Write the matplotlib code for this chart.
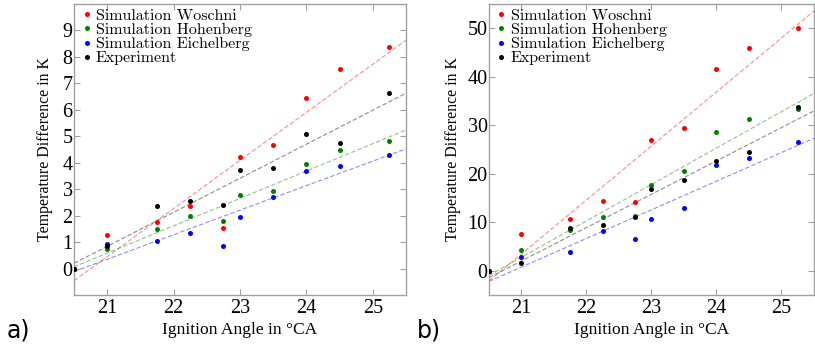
import numpy as np
import matplotlib
matplotlib.use("Agg")
import matplotlib.pyplot as plt

# ignition angles (°CA); the first point is the reference at 20.5 with zero difference
angle = [20.5, 21.0, 21.75, 22.25, 22.75, 23.0, 23.5, 24.0, 24.5, 25.25]

# panel a)
a_woschni = [0, 1.26, 1.76, 2.36, 1.53, 4.22, 4.68, 6.43, 7.54, 8.37]
a_hohenberg = [0, 0.73, 1.48, 1.98, 1.81, 2.79, 2.92, 3.94, 4.47, 4.84]
a_eichelberg = [0, 0.91, 1.05, 1.34, 0.86, 1.96, 2.69, 3.70, 3.88, 4.29]
a_experiment = [0, 0.86, 2.37, 2.56, 2.39, 3.72, 3.81, 5.09, 4.75, 6.65]

# panel b)
b_woschni = [0, 7.48, 10.77, 14.33, 14.13, 26.89, 29.49, 41.56, 45.88, 50.14]
b_hohenberg = [0, 4.18, 8.37, 11.11, 11.39, 17.70, 20.58, 28.67, 31.34, 33.33]
b_eichelberg = [0, 2.81, 3.77, 8.16, 6.58, 10.77, 12.96, 21.88, 23.32, 26.61]
b_experiment = [0, 1.51, 8.85, 9.53, 11.18, 16.80, 18.66, 22.63, 24.55, 33.74]

labels = ["Simulation Woschni", "Simulation Hohenberg",
          "Simulation Eichelberg", "Experiment"]
colors = ["#ff0000", "#008000", "#0000ff", "#000000"]
xticks = [21, 22, 23, 24, 25]

serif = ["Liberation Serif", "DejaVu Serif"]
spine_gray = "#a0a0a0"


def panel(ax, series, ylim, yticks, ylabelpad):
    x = np.array(angle)
    xs = np.array([20.5, 25.5])
    # dashed least-squares trend lines
    for y, c in zip(series, colors):
        k, d = np.polyfit(x, np.array(y), 1)
        ax.plot(xs, k * xs + d, ls=(0, (4, 2)), lw=0.8, color=c, alpha=0.45, zorder=1)
    for y, c, lab in zip(series, colors, labels):
        ax.plot(x, y, ls="none", marker="o", ms=3.6, mew=0, color=c, label=lab, zorder=3)
    ax.set_xlim(20.5, 25.5)
    ax.set_ylim(*ylim)
    ax.set_xticks(xticks)
    ax.set_yticks(yticks)
    ax.tick_params(direction="in", length=4, width=0.8, color=spine_gray,
                   top=True, right=True, labelsize=14.5, pad=3)
    ax.tick_params(axis="y", pad=1)
    for lab in ax.get_xticklabels() + ax.get_yticklabels():
        lab.set_family(serif)
    for s in ax.spines.values():
        s.set_color(spine_gray)
        s.set_linewidth(1.0)
    ax.set_xlabel("Ignition Angle in °CA", family=serif, fontsize=12.6, labelpad=3)
    ax.set_ylabel("Temperature Difference in K", family=serif, fontsize=11.4,
                  labelpad=ylabelpad)
    ax.legend(loc="upper left", bbox_to_anchor=(0.026, 0.984), frameon=False,
              borderaxespad=0, borderpad=0, handlelength=0.5, handletextpad=0.32,
              labelspacing=0.0, prop={"family": "cmr10", "size": 11.5})


fig = plt.figure(figsize=(8.15, 3.44), dpi=100)
ax1 = fig.add_axes([74 / 815, 49 / 344, 332 / 815, 291 / 344])
ax2 = fig.add_axes([489 / 815, 49 / 344, 325 / 815, 291 / 344])

panel(ax1, [a_woschni, a_hohenberg, a_eichelberg, a_experiment], (-1, 10), range(0, 10), 6.5)
panel(ax2, [b_woschni, b_hohenberg, b_eichelberg, b_experiment], (-5, 55), range(0, 51, 10), 5)

fig.text(7 / 815, 0.04, "a)", fontsize=17, va="center", ha="left", family="DejaVu Sans")
fig.text(417 / 815, 0.04, "b)", fontsize=17, va="center", ha="left", family="DejaVu Sans")

fig.savefig("out.png", dpi=100)
